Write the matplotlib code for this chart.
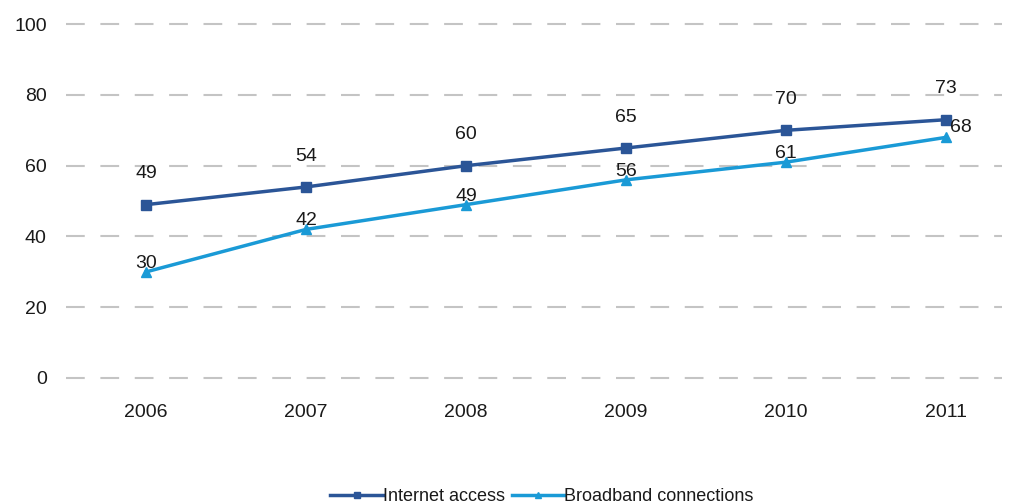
import matplotlib
matplotlib.use("Agg")
import matplotlib.pyplot as plt

plt.rcParams['font.family'] = ['Liberation Sans', 'DejaVu Sans']

years = ['2006', '2007', '2008', '2009', '2010', '2011']
internet = [49, 54, 60, 65, 70, 73]
broadband = [30, 42, 49, 56, 61, 68]
yticks = [0, 20, 40, 60, 80, 100]

c_int = '#2B5597'
c_bb = '#1A9AD6'
txt = '#1A1A1A'

fig = plt.figure(figsize=(10.19, 5.04), dpi=100)
ax = fig.add_axes([0.065, 0.25, 0.918, 0.702])
x = list(range(len(years)))

for yv in yticks:
    ax.axhline(yv, color='#C4C4C4', lw=1.5, dashes=(9, 7.5), zorder=0, clip_on=False)

ax.plot(x, internet, color=c_int, lw=2.5, marker='s', ms=7, label='Internet access', zorder=3)
ax.plot(x, broadband, color=c_bb, lw=2.5, marker='^', ms=7, label='Broadband connections', zorder=3)

for i, v in enumerate(internet):
    ax.annotate(str(v), (i, v), xytext=(0, 16), textcoords='offset points',
                ha='center', va='bottom', fontsize=14, color=txt)
for i, v in enumerate(broadband):
    if i == len(broadband) - 1:
        ax.annotate(str(v), (i, v), xytext=(3, 1), textcoords='offset points',
                    ha='left', va='bottom', fontsize=14, color=txt)
    else:
        ax.annotate(str(v), (i, v), xytext=(0, 0), textcoords='offset points',
                    ha='center', va='bottom', fontsize=14, color=txt)

ax.set_xlim(-0.5, 5.35)
ax.set_ylim(0, 100)
ax.set_yticks(yticks)
ax.set_xticks(x)
ax.set_xticklabels(years)
ax.tick_params(axis='both', length=0, labelsize=14, colors=txt)
ax.tick_params(axis='x', pad=19)
ax.tick_params(axis='y', pad=14)
for s in ax.spines.values():
    s.set_visible(False)

leg = fig.legend(loc='lower center', bbox_to_anchor=(0.532, -0.034), ncol=2, frameon=False,
                 fontsize=13, handlelength=2.9, handletextpad=0.0, columnspacing=0.4,
                 markerscale=0.6)
for t in leg.get_texts():
    t.set_color(txt)

fig.savefig('out.png', dpi=100)
